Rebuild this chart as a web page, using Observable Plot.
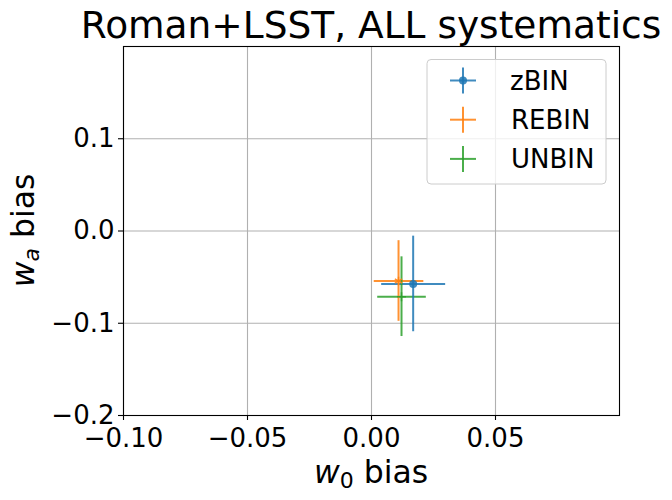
<!DOCTYPE html>
<html><head><meta charset="utf-8">
<script src="https://cdn.jsdelivr.net/npm/d3@7"></script>
<script src="https://cdn.jsdelivr.net/npm/@observablehq/plot@0.6"></script>
<style>
body{margin:0;background:#fff;}
#chart svg{font-family:"DejaVu Sans";display:block;}
</style>
</head><body><div id="chart"></div>
<script>
const series = ["zBIN", "REBIN", "UNBIN"];
const colors = ["#1f77b4", "#ff7f0e", "#2ca02c"];
const w0Bias = [0.0168, 0.0109, 0.0121];
const w0Err  = [0.0129, 0.0100, 0.0098];
const waBias = [-0.0574, -0.0542, -0.0712];
const waErr  = [0.0518, 0.0437, 0.0432];
const xTicks = [-0.10, -0.05, 0.00, 0.05];
const yTicks = [-0.2, -0.1, 0.0, 0.1];
const titleText = "Roman+LSST, ALL systematics";

const data = series.map((s, i) => ({name: s, x: w0Bias[i], xe: w0Err[i], y: waBias[i], ye: waErr[i]}));

const W = 672, H = 500, mL = 123, mR = 53, mT = 46, mB = 85;
const lineOpts = {stroke: "name", strokeWidth: 2, strokeOpacity: 0.85};
const fmtX = d3.format(".2f"), fmtY = d3.format(".1f");

const plot = Plot.plot({
  width: W, height: H, marginLeft: mL, marginRight: mR, marginTop: mT, marginBottom: mB,
  style: {fontFamily: "DejaVu Sans", color: "#000", background: "#fff", overflow: "visible"},
  x: {domain: [-0.1, 0.1]},
  y: {domain: [-0.2, 0.2]},
  color: {domain: series, range: colors},
  marks: [
    Plot.gridX(xTicks, {stroke: "#b0b0b0", strokeOpacity: 1, strokeWidth: 1.1}),
    Plot.gridY(yTicks, {stroke: "#b0b0b0", strokeOpacity: 1, strokeWidth: 1.1}),
    Plot.axisX(xTicks, {tickFormat: () => "", tickSize: 5, label: null, strokeWidth: 1.1}),
    Plot.axisY(yTicks, {tickFormat: () => "", tickSize: 5, label: null, strokeWidth: 1.1}),
    Plot.text(xTicks, {x: d => d, text: d => fmtX(d), frameAnchor: "bottom", lineAnchor: "top", dy: 13, fontSize: 26, fill: "#000"}),
    Plot.text(yTicks, {y: d => d, text: d => fmtY(d), frameAnchor: "left", textAnchor: "end", dx: -9, fontSize: 26, fill: "#000"}),
    Plot.link(data, {x1: d => d.x - d.xe, x2: d => d.x + d.xe, y1: "y", y2: "y", ...lineOpts}),
    Plot.ruleX(data, {x: "x", y1: d => d.y - d.ye, y2: d => d.y + d.ye, ...lineOpts}),
    Plot.dot(data, {filter: d => d.name === "zBIN", x: "x", y: "y", fill: "name", fillOpacity: 0.85, r: 4, stroke: null}),
    Plot.dot(data, {filter: d => d.name === "REBIN", x: "x", y: "y", symbol: "asterisk", stroke: "name", strokeOpacity: 0.85, strokeWidth: 1.5, r: 4}),
    Plot.dot(data, {filter: d => d.name === "UNBIN", x: "x", y: "y", symbol: "plus", stroke: "name", strokeOpacity: 0.85, strokeWidth: 1.5, r: 3}),
    Plot.frame({stroke: "#000", strokeWidth: 1.1})
  ]
});
document.getElementById("chart").appendChild(plot);

const svg = d3.select(plot);
const cx = mL + (W - mL - mR) / 2;

// Title
svg.append("text").attr("x", cx).attr("y", 37.5).attr("text-anchor", "middle")
  .attr("font-size", 37.5).attr("fill", "#000").text(titleText);

// X label: w_0 bias
const xl = svg.append("text").attr("x", cx).attr("y", 482.5).attr("text-anchor", "middle")
  .attr("font-size", 31.5).attr("fill", "#000");
xl.append("tspan").attr("font-style", "italic").text("w");
xl.append("tspan").attr("font-size", 22).attr("dy", 5).text("0");
xl.append("tspan").attr("dy", -5).text(" bias");

// Y label: w_a bias
const yl = svg.append("text").attr("transform", `translate(34,${mT + (H - mT - mB) / 2}) rotate(-90)`)
  .attr("text-anchor", "middle").attr("font-size", 31.5).attr("fill", "#000");
yl.append("tspan").attr("font-style", "italic").text("w");
yl.append("tspan").attr("font-size", 22).attr("font-style", "italic").attr("dy", 5).text("a");
yl.append("tspan").attr("dy", -5).text(" bias");

// Legend
const lg = svg.append("g").attr("text-anchor", "start");
lg.append("rect").attr("x", 427).attr("y", 59.5).attr("width", 179).attr("height", 124.5).attr("rx", 4)
  .attr("fill", "#fff").attr("fill-opacity", 0.8).attr("stroke", "#cccccc").attr("stroke-width", 1);
series.forEach((s, i) => {
  const ry = 80.5 + i * 39.2;
  const g = lg.append("g").attr("stroke", colors[i]).attr("stroke-opacity", 0.85);
  g.append("line").attr("x1", 450).attr("x2", 476).attr("y1", ry).attr("y2", ry).attr("stroke-width", 2);
  g.append("line").attr("x1", 463).attr("x2", 463).attr("y1", ry - 13).attr("y2", ry + 13).attr("stroke-width", 2);
  if (i === 0) g.append("circle").attr("cx", 463).attr("cy", ry).attr("r", 4).attr("fill", colors[i]).attr("stroke", "none").attr("fill-opacity", 0.85);
  lg.append("text").attr("x", i === 0 ? 510 : 511).attr("y", ry + 9.5).attr("text-anchor", "start")
    .attr("font-size", 26).attr("fill", "#000").text(s);
});
</script>
</body></html>
